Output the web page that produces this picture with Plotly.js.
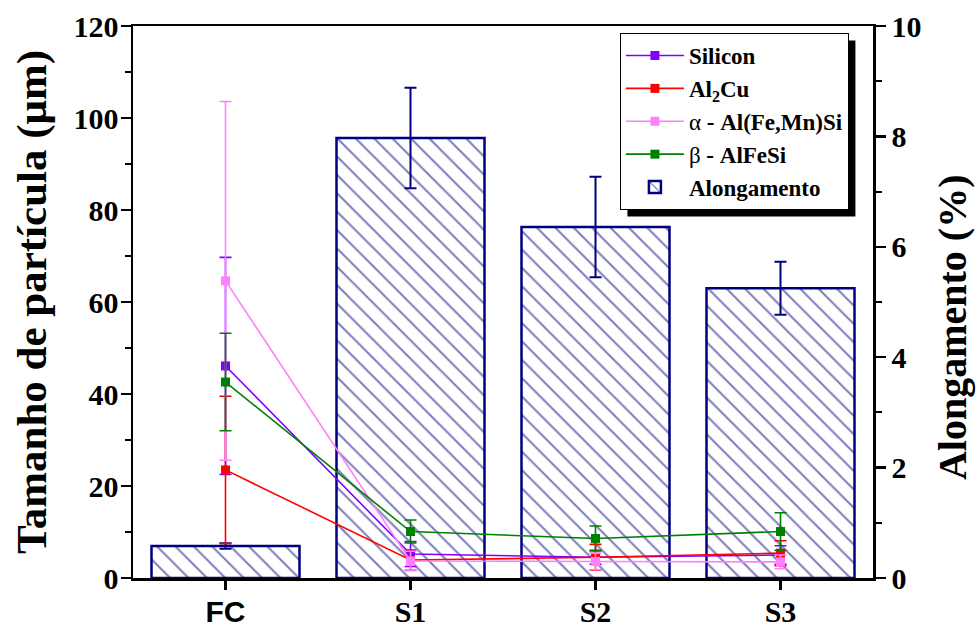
<!DOCTYPE html>
<html>
<head>
<meta charset="utf-8">
<script src="https://cdn.plot.ly/plotly-3.0.1.min.js"></script>
<style>
html,body{margin:0;padding:0;background:#fff;}
#chart{width:976px;height:627px;}
</style>
</head>
<body>
<div id="chart"></div>
<script>
// ---- data ----
const categories = ['FC', 'S1', 'S2', 'S3'];
const tickLabels = ['<span style="font-family:Liberation Sans">FC</span>', 'S1', 'S2', 'S3'];

const silicon    = [46.1, 5.2, 4.5, 5.0];
const siliconErr = [23.6, 2.7, 1.5, 2.0];

const al2cu    = [23.5, 3.9, 4.5, 5.4];
const al2cuErr = [16.0, 2.2, 2.8, 2.7];

const alphaPh    = [64.6, 3.7, 3.6, 3.5];
const alphaPhErr = [39.0, 2.1, 1.8, 1.5];

const betaPh    = [42.6, 10.1, 8.6, 10.1];
const betaPhErr = [10.6, 2.5, 2.7, 4.1];

const alongamento    = [0.58, 7.97, 6.36, 5.25];
const alongamentoErr = [0.05, 0.91, 0.91, 0.48];

const seriesNames = ['Silicon', 'Al<sub>2</sub>Cu',
  '<span style="font-weight:normal">α</span> - Al(Fe,Mn)Si',
  '<span style="font-weight:normal">β</span> - AlFeSi', 'Alongamento'];

const leftTitle = 'Tamanho de partícula (μm)';
const rightTitle = 'Alongamento (%)';

// ---- styles ----
const serif = 'Liberation Serif';
const navy = '#000080';

function lineTrace(y, err, name, color, rank) {
  return {
    type: 'scatter', mode: 'lines+markers', x: categories, y: y, name: name,
    yaxis: 'y2', legendrank: rank, legendgroup: 'g' + rank,
    line: {color: color, width: 1.6},
    marker: {symbol: 'square', size: 9, color: color},
    error_y: {type: 'data', array: err, visible: true, color: color, thickness: 1.6, width: 6}
  };
}

const traces = [
  {
    type: 'bar', x: categories, y: alongamento, name: seriesNames[4], yaxis: 'y',
    legendrank: 5, legendgroup: 'g5', width: 0.8,
    marker: {color: 'white', line: {color: navy, width: 2.5},
      pattern: {shape: '\\', fgcolor: navy, bgcolor: 'white', size: 13, solidity: 0.16, fillmode: 'overlay'}},
    error_y: {type: 'data', array: alongamentoErr, visible: true, color: navy, thickness: 2, width: 6}
  },
  lineTrace(silicon, siliconErr, seriesNames[0], '#8000FF', 1),
  lineTrace(al2cu, al2cuErr, seriesNames[1], '#FF0000', 2),
  lineTrace(alphaPh, alphaPhErr, seriesNames[2], '#FF80FF', 3),
  lineTrace(betaPh, betaPhErr, seriesNames[3], '#008000', 4)
];

const layout = {
  width: 976, height: 627,
  margin: {l: 133, r: 103, t: 26, b: 49},
  paper_bgcolor: 'white', plot_bgcolor: 'white',
  font: {family: serif, color: 'black', weight: 'bold'},
  showlegend: true,
  xaxis: {
    type: 'category', range: [-0.5, 3.5], tickvals: categories, ticktext: tickLabels,
    showline: true, linecolor: 'black', linewidth: 2.5, mirror: true,
    ticks: 'outside', ticklen: 9, tickwidth: 2.5, tickcolor: 'black',
    tickfont: {family: serif, size: 30, weight: 'bold', color: 'black'},
    ticklabelstandoff: -4,
    showgrid: false, zeroline: false
  },
  yaxis: {
    side: 'right', range: [0, 10], dtick: 2,
    showline: true, linecolor: 'black', linewidth: 2.5,
    ticks: 'outside', ticklen: 10, tickwidth: 2.5, tickcolor: 'black',
    minor: {dtick: 1, ticks: 'outside', ticklen: 6, tickwidth: 2, tickcolor: 'black'},
    tickfont: {family: serif, size: 30, weight: 'bold', color: 'black'},
    ticklabelstandoff: 0,
    showgrid: false, zeroline: false
  },
  yaxis2: {
    side: 'left', overlaying: 'y', range: [0, 120], dtick: 20,
    showline: true, linecolor: 'black', linewidth: 2.5,
    ticks: 'outside', ticklen: 10, tickwidth: 2.5, tickcolor: 'black',
    minor: {dtick: 10, ticks: 'outside', ticklen: 6, tickwidth: 2, tickcolor: 'black'},
    tickfont: {family: serif, size: 30, weight: 'bold', color: 'black'},
    ticklabelstandoff: -4,
    title: {text: leftTitle, font: {family: serif, size: 43, weight: 'bold'}, standoff: 14},
    showgrid: false, zeroline: false
  },
  annotations: [
    {text: rightTitle, xref: 'paper', yref: 'paper', x: 1.1068, y: 0.4547,
     xanchor: 'center', yanchor: 'middle', textangle: -90, showarrow: false,
     font: {family: serif, size: 40, weight: 'bold', color: 'black'}}
  ],
  legend: {
    x: 0.658, y: 0.9873, xanchor: 'left', yanchor: 'top',
    bgcolor: 'white', bordercolor: 'black', borderwidth: 1,
    font: {family: serif, size: 23, color: 'black', weight: 'bold'},
    tracegroupgap: 0, itemwidth: 58
  },
  shapes: []
};

Plotly.newPlot('chart', traces, layout, {displayModeBar: false, staticPlot: true}).then(function (gd) {
  // drop shadow behind the legend box, placed from the legend's rendered box
  const bg = gd.querySelector('.legend .bg');
  if (!bg) return;
  const r = bg.getBoundingClientRect();
  const c = gd.getBoundingClientRect();
  const fs = gd._fullLayout._size;
  const off = 7;
  const px = function (x) { return (x - c.left - fs.l) / fs.w; };
  const py = function (y) { return 1 - (y - c.top - fs.t) / fs.h; };
  return Plotly.relayout(gd, {shapes: [{
    type: 'rect', xref: 'paper', yref: 'paper',
    x0: px(r.left + off), x1: px(r.right + off), y0: py(r.bottom + off), y1: py(r.top + off),
    fillcolor: 'black', line: {width: 0}, layer: 'above'
  }]});
});
</script>
</body>
</html>
